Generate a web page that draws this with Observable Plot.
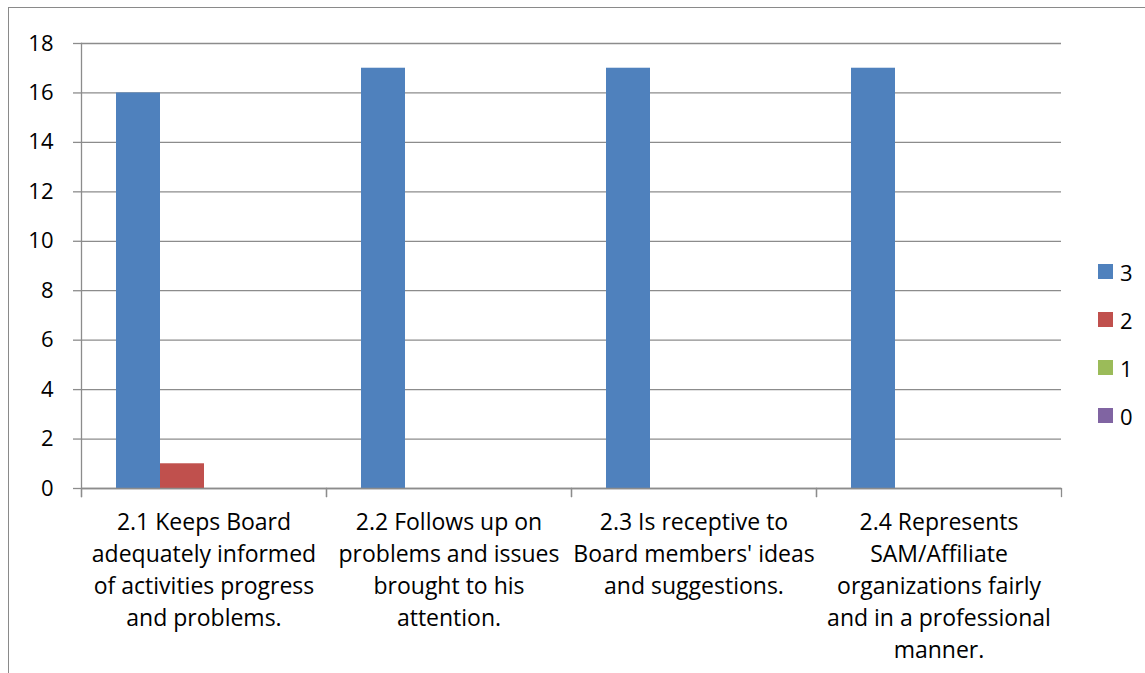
<!DOCTYPE html>
<html><head><meta charset="utf-8">
<script src="https://cdn.jsdelivr.net/npm/d3@7"></script>
<script src="https://cdn.jsdelivr.net/npm/@observablehq/plot@0.6"></script>
<style>
html,body{margin:0;padding:0;background:#fff;}
#wrap{position:relative;width:1145px;height:673px;overflow:hidden;font-family:"Open Sans",Lato,sans-serif;}
#border{position:absolute;left:8px;top:7px;width:2000px;height:2000px;border-left:1px solid #8a8a8a;border-top:1px solid #8a8a8a;}
#chart{position:absolute;left:0;top:0;}
#legend{position:absolute;left:1098px;top:247.5px;font-size:22px;color:#000;}
.item{display:flex;align-items:center;height:48px;}
.sw{width:15px;height:15px;margin-right:7px;}
</style>
</head><body>
<div id="wrap"><div id="border"></div><div id="chart"></div><div id="legend"></div></div>
<script>
const categories = [
  "2.1 Keeps Board\nadequately informed\nof activities progress\nand problems.",
  "2.2 Follows up on\nproblems and issues\nbrought to his\nattention.",
  "2.3 Is receptive to\nBoard members' ideas\nand suggestions.",
  "2.4 Represents\nSAM/Affiliate\norganizations fairly\nand in a professional\nmanner."
];
const series = ["3", "2", "1", "0"];
const values3 = [16, 17, 17, 17];
const values2 = [1, 0, 0, 0];
const values1 = [0, 0, 0, 0];
const values0 = [0, 0, 0, 0];
const colors = ["#4F81BD", "#C0504D", "#9BBB59", "#8064A2"];
const yTicks = [0, 2, 4, 6, 8, 10, 12, 14, 16, 18];

const seriesValues = [values3, values2, values1, values0];
const data = [];
categories.forEach((c, i) => series.forEach((s, j) => data.push({category: c, series: s, value: seriesValues[j][i]})));

const W = 1145, H = 673, mL = 81, mR = 84, mT = 43, mB = 185;
const plotH = H - mT - mB;
const grid = "#8c8c8c", gw = 1.3;
const font = '"Open Sans", Lato, sans-serif';

const chart = Plot.plot({
  width: W, height: H,
  marginLeft: mL, marginRight: mR, marginTop: mT, marginBottom: mB,
  style: {fontFamily: font, fontSize: "22px", color: "#000", background: "transparent", overflow: "visible"},
  fx: {domain: categories, padding: 0, label: null, axis: null},
  x: {domain: series, paddingInner: 0, paddingOuter: 0.75, axis: null},
  y: {domain: [0, 18], label: null, axis: null},
  color: {domain: series, range: colors},
  marks: [
    Plot.gridY(yTicks, {stroke: grid, strokeOpacity: 1, strokeWidth: gw}),
    Plot.barY(data, {fx: "category", x: "series", y: "value", fill: "series"}),
    Plot.ruleY([0], {stroke: grid, strokeWidth: gw}),
    Plot.axisY(yTicks, {anchor: "left", tickSize: 8, tickPadding: 20, stroke: grid, strokeWidth: gw, strokeOpacity: 1, fontSize: 22, label: null}),
    Plot.frame({anchor: "left", facetAnchor: "left", stroke: grid, strokeWidth: gw, insetBottom: -8}),
    Plot.frame({anchor: "left", stroke: grid, strokeWidth: gw, insetTop: plotH, insetBottom: -8}),
    Plot.frame({anchor: "right", stroke: grid, strokeWidth: gw, insetTop: plotH, insetBottom: -8}),
    Plot.axisFx({anchor: "bottom", tickSize: 0, tickPadding: 19, lineAnchor: "top", lineHeight: 1.39, fontSize: 23, label: null})
  ]
});
document.getElementById("chart").appendChild(chart);

const legend = d3.select("#legend");
series.forEach((s, j) => {
  const it = legend.append("div").attr("class", "item");
  it.append("div").attr("class", "sw").style("background", colors[j]);
  it.append("span").text(s);
});
</script>
</body></html>
